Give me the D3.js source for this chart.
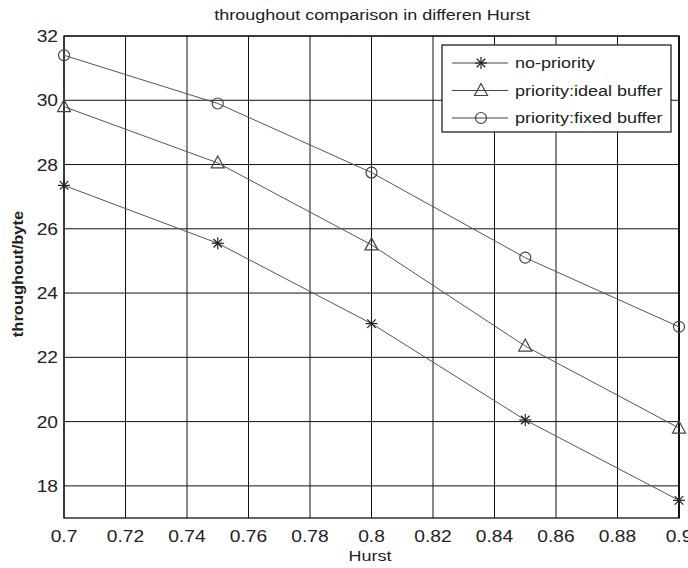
<!DOCTYPE html>
<html>
<head>
<meta charset="utf-8">
<script src="https://cdn.jsdelivr.net/npm/d3@7"></script>
<style>
	body { margin: 0; background: #ffffff; }
	text { font-family: "Liberation Sans", Arial, sans-serif; fill: #222; }
</style>
</head>
<body>
<script>
var hurst = [0.7, 0.75, 0.8, 0.85, 0.9];
var noPriority = [27.35, 25.55, 23.05, 20.05, 17.55];
var idealBuffer = [29.8, 28.05, 25.5, 22.35, 19.8];
var fixedBuffer = [31.4, 29.9, 27.75, 25.1, 22.95];
var xTicks = [0.7, 0.72, 0.74, 0.76, 0.78, 0.8, 0.82, 0.84, 0.86, 0.88, 0.9];
var yTicks = [18, 20, 22, 24, 26, 28, 30, 32];
var seriesNames = ["no-priority", "priority:ideal buffer", "priority:fixed buffer"];
var markers = ["star", "triangle", "circle"];

var svg = d3.select("body")
	.append("svg")
	.attr("width", 688)
	.attr("height", 568);

var pLeft = 64, pRight = 679, pTop = 36, pBottom = 518;
var x = d3.scaleLinear().domain([0.7, 0.9]).range([pLeft, pRight]);
var y = d3.scaleLinear().domain([17, 32]).range([pBottom, pTop]);

// text stretched a bit wider, like the scanned figure
function label(px, py, str, size, anchor, rot) {
	return svg.append("text")
		.attr("transform", "translate(" + px + "," + py + ")" + (rot ? " rotate(" + rot + ")" : "") + " scale(1.2,1)")
		.attr("text-anchor", anchor || "middle")
		.style("font-size", size + "px")
		.text(str);
}

// grid
svg.append("g").selectAll("line").data(xTicks).join("line")
	.attr("x1", d => x(d)).attr("x2", d => x(d))
	.attr("y1", pTop).attr("y2", pBottom)
	.attr("stroke", "#111").attr("stroke-width", 1);
svg.append("g").selectAll("line").data(yTicks).join("line")
	.attr("x1", pLeft).attr("x2", pRight)
	.attr("y1", d => y(d)).attr("y2", d => y(d))
	.attr("stroke", "#111").attr("stroke-width", 1);

// frame
svg.append("rect")
	.attr("x", pLeft).attr("y", pTop)
	.attr("width", pRight - pLeft).attr("height", pBottom - pTop)
	.attr("fill", "none").attr("stroke", "#111").attr("stroke-width", 1.3);
svg.append("line")
	.attr("x1", pRight).attr("x2", pRight).attr("y1", pTop).attr("y2", pBottom)
	.attr("stroke", "#111").attr("stroke-width", 2);

// tick labels
xTicks.forEach(function (t) {
	label(x(t), pBottom + 24, d3.format("")(t), 16, "middle");
});
yTicks.forEach(function (t) {
	label(pLeft - 6, y(t) + 6, t, 16, "end");
});

label(372, 20, "throughout comparison in differen Hurst", 15, "middle");
label(370, 561, "Hurst", 15, "middle");
svg.append("text")
	.attr("transform", "translate(23,274) rotate(-90) scale(1.1,1)")
	.attr("text-anchor", "middle")
	.style("font-size", "15px")
	.style("font-weight", "bold")
	.text("throughout/byte");

function drawMarker(g, type, cx, cy) {
	if (type === "circle") {
		g.append("circle").attr("cx", cx).attr("cy", cy).attr("r", 5.5)
			.attr("fill", "none").attr("stroke", "#444").attr("stroke-width", 1.2);
	} else if (type === "triangle") {
		g.append("path")
			.attr("d", "M" + cx + "," + (cy - 7) + "L" + (cx + 6.5) + "," + (cy + 5) + "L" + (cx - 6.5) + "," + (cy + 5) + "Z")
			.attr("fill", "none").attr("stroke", "#444").attr("stroke-width", 1.2);
	} else {
		var r = 6;
		d3.range(4).forEach(function (i) {
			var a = i * Math.PI / 4;
			g.append("line")
				.attr("x1", cx - r * Math.cos(a)).attr("y1", cy - r * Math.sin(a))
				.attr("x2", cx + r * Math.cos(a)).attr("y2", cy + r * Math.sin(a))
				.attr("stroke", "#222").attr("stroke-width", 1.2);
		});
	}
}

var line = d3.line().x((d, i) => x(hurst[i])).y(d => y(d));
[noPriority, idealBuffer, fixedBuffer].forEach(function (vals, k) {
	var g = svg.append("g");
	g.append("path").datum(vals).attr("d", line)
		.attr("fill", "none").attr("stroke", "#555").attr("stroke-width", 1);
	vals.forEach(function (v, i) {
		drawMarker(g, markers[k], x(hurst[i]), y(v));
	});
});

// legend
var lg = svg.append("g");
lg.append("rect")
	.attr("x", 442).attr("y", 45).attr("width", 229).attr("height", 87)
	.attr("fill", "#fff").attr("stroke", "#111").attr("stroke-width", 1.2);
seriesNames.forEach(function (name, k) {
	var ly = 63 + k * 27.5;
	lg.append("line").attr("x1", 452).attr("x2", 508).attr("y1", ly).attr("y2", ly)
		.attr("stroke", "#444").attr("stroke-width", 1);
	drawMarker(lg, markers[k], 481, ly);
	lg.append("text")
		.attr("transform", "translate(515," + (ly + 5) + ") scale(1.2,1)")
		.style("font-size", "15px")
		.text(name);
});
</script>
</body>
</html>
